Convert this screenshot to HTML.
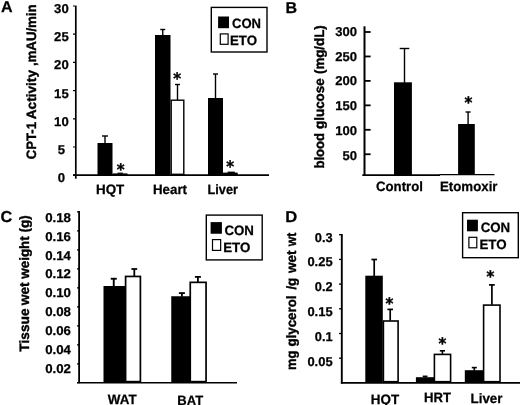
<!DOCTYPE html>
<html><head><meta charset="utf-8"><title>Figure</title>
<style>
html,body{margin:0;padding:0;background:#fff;}
body{width:520px;height:405px;overflow:hidden;}
svg{display:block;filter:blur(0.4px);}
svg text{font-family:"Liberation Sans",Arial,Helvetica,sans-serif;font-weight:bold;fill:#000;text-rendering:geometricPrecision;stroke:#000;stroke-width:0.25px;}
svg text.s{font-family:"DejaVu Sans","Liberation Sans",sans-serif;stroke-width:0.4px;}
svg text.v{stroke-width:0.38px;}
</style></head><body>
<svg width="520" height="405" viewBox="0 0 520 405">
<rect width="520" height="405" fill="#fff"/>
<text x="0.9" y="12.4" font-size="15.6" text-anchor="start" textLength="11.6" lengthAdjust="spacingAndGlyphs" >A</text>
<text class="v" transform="translate(36.2,0) rotate(-90)" font-size="13.6"><tspan x="-159.2" textLength="37.2" lengthAdjust="spacingAndGlyphs">CPT-1</tspan> <tspan x="-119.3" textLength="49.3" lengthAdjust="spacingAndGlyphs">Activity</tspan> <tspan x="-66.1" textLength="61.7" lengthAdjust="spacingAndGlyphs">,mAU/min</tspan></text>
<line x1="75.8" y1="5.6" x2="75.8" y2="178.7" stroke="#000" stroke-width="1.7"/>
<line x1="73" y1="175.2" x2="269" y2="175.2" stroke="#000" stroke-width="1.7"/>
<line x1="73" y1="6.0" x2="75" y2="6.0" stroke="#000" stroke-width="1.2"/>
<text x="61.4" y="13" font-size="12.9" text-anchor="middle" textLength="14.6" lengthAdjust="spacingAndGlyphs" >30</text>
<line x1="73" y1="34.2" x2="75" y2="34.2" stroke="#000" stroke-width="1.2"/>
<text x="61.4" y="41" font-size="12.9" text-anchor="middle" textLength="14.6" lengthAdjust="spacingAndGlyphs" >25</text>
<line x1="73" y1="62.4" x2="75" y2="62.4" stroke="#000" stroke-width="1.2"/>
<text x="61.4" y="69" font-size="12.9" text-anchor="middle" textLength="14.6" lengthAdjust="spacingAndGlyphs" >20</text>
<line x1="73" y1="90.6" x2="75" y2="90.6" stroke="#000" stroke-width="1.2"/>
<text x="61.4" y="98" font-size="12.9" text-anchor="middle" textLength="14.6" lengthAdjust="spacingAndGlyphs" >15</text>
<line x1="73" y1="118.8" x2="75" y2="118.8" stroke="#000" stroke-width="1.2"/>
<text x="61.4" y="126" font-size="12.9" text-anchor="middle" textLength="14.6" lengthAdjust="spacingAndGlyphs" >10</text>
<line x1="73" y1="147.0" x2="75" y2="147.0" stroke="#000" stroke-width="1.2"/>
<text x="61.4" y="154" font-size="12.9" text-anchor="middle" textLength="7.3" lengthAdjust="spacingAndGlyphs" >5</text>
<line x1="73" y1="175.2" x2="75" y2="175.2" stroke="#000" stroke-width="1.2"/>
<text x="61.4" y="182" font-size="12.9" text-anchor="middle" textLength="7.3" lengthAdjust="spacingAndGlyphs" >0</text>
<line x1="105.0" y1="136" x2="105.0" y2="143.5" stroke="#000" stroke-width="1.4"/>
<line x1="102.0" y1="136" x2="108.0" y2="136" stroke="#000" stroke-width="1.4"/>
<rect x="97.5" y="143" width="15.0" height="32" fill="#000"/>
<rect x="112.5" y="173.4" width="15.0" height="1.5999999999999943" fill="#000"/>
<line x1="117.5" y1="173.2" x2="123" y2="173.2" stroke="#000" stroke-width="1.2"/>
<text class="s" transform="translate(120.7,167.2) scale(1,1.06)" x="0" y="7.5" font-size="15" text-anchor="middle">*</text>
<line x1="162.75" y1="29.5" x2="162.75" y2="35.5" stroke="#000" stroke-width="1.4"/>
<line x1="160.25" y1="29.5" x2="165.25" y2="29.5" stroke="#000" stroke-width="1.4"/>
<rect x="155" y="35" width="15.5" height="140" fill="#000"/>
<line x1="177.5" y1="84.5" x2="177.5" y2="100.0" stroke="#000" stroke-width="1.4"/>
<line x1="175.0" y1="84.5" x2="180.0" y2="84.5" stroke="#000" stroke-width="1.4"/>
<rect x="171.2" y="100.2" width="12.6" height="74.1" fill="#fff" stroke="#000" stroke-width="1.4"/>
<text class="s" transform="translate(177.1,76.4) scale(1,1.06)" x="0" y="7.5" font-size="15" text-anchor="middle">*</text>
<line x1="215.5" y1="74" x2="215.5" y2="98.5" stroke="#000" stroke-width="1.4"/>
<line x1="213.0" y1="74" x2="218.0" y2="74" stroke="#000" stroke-width="1.4"/>
<rect x="208" y="98" width="15" height="77" fill="#000"/>
<rect x="223" y="172.6" width="14.699999999999989" height="2.4000000000000057" fill="#000"/>
<line x1="227.6" y1="172.3" x2="234.8" y2="172.3" stroke="#000" stroke-width="1.4"/>
<text class="s" transform="translate(230.2,164.2) scale(1,1.06)" x="0" y="7.5" font-size="15" text-anchor="middle">*</text>
<text x="96" y="194.2" font-size="13.6" text-anchor="start" textLength="28.3" lengthAdjust="spacingAndGlyphs" >HQT</text>
<text x="153" y="194.2" font-size="13.6" text-anchor="start" textLength="34" lengthAdjust="spacingAndGlyphs" >Heart</text>
<text x="207.5" y="194.2" font-size="13.6" text-anchor="start" textLength="30.5" lengthAdjust="spacingAndGlyphs" >Liver</text>
<rect x="211.29999999999998" y="7.4" width="55.699999999999996" height="44.6" fill="#fff" stroke="#000" stroke-width="1.4"/>
<rect x="218.1" y="16.5" width="10.900000000000006" height="11.7" fill="#000"/>
<rect x="220.29999999999998" y="33.9" width="7.8" height="10.400000000000002" fill="#fff" stroke="#000" stroke-width="1.2"/>
<text x="232" y="28" font-size="13.6" text-anchor="start" textLength="29" lengthAdjust="spacingAndGlyphs" >CON</text>
<text x="230" y="45.3" font-size="13.6" text-anchor="start" textLength="27" lengthAdjust="spacingAndGlyphs" >ETO</text>
<text x="285.6" y="12.6" font-size="15.6" text-anchor="start" textLength="11.6" lengthAdjust="spacingAndGlyphs" >B</text>
<text class="v" transform="translate(323.8,0) rotate(-90)" font-size="13.6"><tspan x="-168.6" textLength="35.7" lengthAdjust="spacingAndGlyphs">blood</tspan> <tspan x="-128.9" textLength="50.5" lengthAdjust="spacingAndGlyphs">glucose</tspan> <tspan x="-74" textLength="48.7" lengthAdjust="spacingAndGlyphs">(mg/dL)</tspan></text>
<line x1="364.5" y1="26.3" x2="364.5" y2="175.5" stroke="#000" stroke-width="2"/>
<line x1="362.3" y1="175.2" x2="440" y2="175.2" stroke="#000" stroke-width="1.7"/>
<line x1="439.5" y1="174.7" x2="494.5" y2="174.7" stroke="#000" stroke-width="1.2"/>
<line x1="364.5" y1="32.0" x2="370.6" y2="32.0" stroke="#000" stroke-width="1.8"/>
<text x="357.1" y="36" font-size="12.9" text-anchor="end" textLength="21.75" lengthAdjust="spacingAndGlyphs" >300</text>
<line x1="364.5" y1="56.45" x2="370.6" y2="56.45" stroke="#000" stroke-width="1.8"/>
<text x="357.1" y="61" font-size="12.9" text-anchor="end" textLength="21.75" lengthAdjust="spacingAndGlyphs" >250</text>
<line x1="364.5" y1="80.9" x2="370.6" y2="80.9" stroke="#000" stroke-width="1.8"/>
<text x="357.1" y="85" font-size="12.9" text-anchor="end" textLength="21.75" lengthAdjust="spacingAndGlyphs" >200</text>
<line x1="364.5" y1="105.35" x2="370.6" y2="105.35" stroke="#000" stroke-width="1.8"/>
<text x="357.1" y="110" font-size="12.9" text-anchor="end" textLength="21.75" lengthAdjust="spacingAndGlyphs" >150</text>
<line x1="364.5" y1="129.8" x2="370.6" y2="129.8" stroke="#000" stroke-width="1.8"/>
<text x="357.1" y="135" font-size="12.9" text-anchor="end" textLength="21.75" lengthAdjust="spacingAndGlyphs" >100</text>
<line x1="364.5" y1="154.25" x2="370.6" y2="154.25" stroke="#000" stroke-width="1.8"/>
<text x="357.1" y="160" font-size="12.9" text-anchor="end" textLength="14.5" lengthAdjust="spacingAndGlyphs" >50</text>
<line x1="404.5" y1="48.5" x2="404.5" y2="82.8" stroke="#000" stroke-width="1.4"/>
<line x1="399.7" y1="48.5" x2="409.3" y2="48.5" stroke="#000" stroke-width="1.4"/>
<rect x="394" y="82.3" width="17.899999999999977" height="92.7" fill="#000"/>
<line x1="468.1" y1="112" x2="468.1" y2="124.5" stroke="#000" stroke-width="1.4"/>
<line x1="465.6" y1="112" x2="470.6" y2="112" stroke="#000" stroke-width="1.4"/>
<rect x="458.1" y="124" width="16.69999999999999" height="51" fill="#000"/>
<text class="s" transform="translate(468.3,99.7) scale(1,1.06)" x="0" y="7.5" font-size="15" text-anchor="middle">*</text>
<text x="376" y="191" font-size="13.6" text-anchor="start" textLength="47" lengthAdjust="spacingAndGlyphs" >Control</text>
<text x="440" y="191" font-size="13.6" text-anchor="start" textLength="57.5" lengthAdjust="spacingAndGlyphs" >Etomoxir</text>
<text x="0.6" y="222.4" font-size="15.8" text-anchor="start" textLength="11.8" lengthAdjust="spacingAndGlyphs" >C</text>
<text class="v" transform="translate(29,0) rotate(-90)" font-size="13.6"><tspan x="-351.7" textLength="43.3" lengthAdjust="spacingAndGlyphs">Tissue</tspan> <tspan x="-305.2" textLength="22.8" lengthAdjust="spacingAndGlyphs">wet</tspan> <tspan x="-278.8" textLength="63.5" lengthAdjust="spacingAndGlyphs">weight (g)</tspan></text>
<line x1="79.1" y1="211" x2="79.1" y2="383.2" stroke="#000" stroke-width="1.8"/>
<line x1="77" y1="382.7" x2="237" y2="382.7" stroke="#000" stroke-width="1.6"/>
<line x1="77" y1="211.8" x2="79" y2="211.8" stroke="#000" stroke-width="1.2"/>
<text x="45.2" y="222" font-size="12.9" text-anchor="start" textLength="25.8" lengthAdjust="spacingAndGlyphs" >0.18</text>
<line x1="77" y1="230.8" x2="79" y2="230.8" stroke="#000" stroke-width="1.2"/>
<text x="45.2" y="241" font-size="12.9" text-anchor="start" textLength="25.8" lengthAdjust="spacingAndGlyphs" >0.16</text>
<line x1="77" y1="249.8" x2="79" y2="249.8" stroke="#000" stroke-width="1.2"/>
<text x="45.2" y="260" font-size="12.9" text-anchor="start" textLength="25.8" lengthAdjust="spacingAndGlyphs" >0.14</text>
<line x1="77" y1="268.8" x2="79" y2="268.8" stroke="#000" stroke-width="1.2"/>
<text x="45.2" y="278" font-size="12.9" text-anchor="start" textLength="25.8" lengthAdjust="spacingAndGlyphs" >0.12</text>
<line x1="77" y1="287.8" x2="79" y2="287.8" stroke="#000" stroke-width="1.2"/>
<text x="45.2" y="297" font-size="12.9" text-anchor="start" textLength="25.8" lengthAdjust="spacingAndGlyphs" >0.10</text>
<line x1="77" y1="306.8" x2="79" y2="306.8" stroke="#000" stroke-width="1.2"/>
<text x="45.2" y="316" font-size="12.9" text-anchor="start" textLength="25.8" lengthAdjust="spacingAndGlyphs" >0.08</text>
<line x1="77" y1="325.8" x2="79" y2="325.8" stroke="#000" stroke-width="1.2"/>
<text x="45.2" y="335" font-size="12.9" text-anchor="start" textLength="25.8" lengthAdjust="spacingAndGlyphs" >0.06</text>
<line x1="77" y1="344.8" x2="79" y2="344.8" stroke="#000" stroke-width="1.2"/>
<text x="45.2" y="354" font-size="12.9" text-anchor="start" textLength="25.8" lengthAdjust="spacingAndGlyphs" >0.04</text>
<line x1="77" y1="363.8" x2="79" y2="363.8" stroke="#000" stroke-width="1.2"/>
<text x="45.2" y="373" font-size="12.9" text-anchor="start" textLength="25.8" lengthAdjust="spacingAndGlyphs" >0.02</text>
<line x1="113.75" y1="278.75" x2="113.75" y2="286.5" stroke="#000" stroke-width="1.9"/>
<line x1="110.75" y1="278.75" x2="116.75" y2="278.75" stroke="#000" stroke-width="1.9"/>
<rect x="103.5" y="286" width="21.5" height="96.5" fill="#000"/>
<line x1="134.3" y1="269" x2="134.3" y2="276.1" stroke="#000" stroke-width="1.8"/>
<line x1="131.4" y1="269" x2="137.20000000000002" y2="269" stroke="#000" stroke-width="1.8"/>
<rect x="125.6" y="276.45000000000005" width="14.8" height="105.19999999999997" fill="#fff" stroke="#000" stroke-width="1.7"/>
<line x1="181.9" y1="293.1" x2="181.9" y2="296.75" stroke="#000" stroke-width="1.8"/>
<line x1="178.9" y1="293.1" x2="184.9" y2="293.1" stroke="#000" stroke-width="1.8"/>
<rect x="171.25" y="296.25" width="18.75" height="86.25" fill="#000"/>
<line x1="197.9" y1="276.9" x2="197.9" y2="282.0" stroke="#000" stroke-width="1.8"/>
<line x1="194.9" y1="276.9" x2="200.9" y2="276.9" stroke="#000" stroke-width="1.8"/>
<rect x="190.25" y="282.35" width="15.8" height="99.3" fill="#fff" stroke="#000" stroke-width="1.7"/>
<text x="107.8" y="404" font-size="13.6" text-anchor="start" textLength="28.8" lengthAdjust="spacingAndGlyphs" >WAT</text>
<text x="177.3" y="405" font-size="13.6" text-anchor="start" textLength="25.8" lengthAdjust="spacingAndGlyphs" >BAT</text>
<rect x="206.29999999999998" y="215.1" width="55.899999999999984" height="44.80000000000002" fill="#fff" stroke="#000" stroke-width="1.4"/>
<rect x="210.6" y="222.1" width="11.300000000000011" height="11.650000000000006" fill="#000"/>
<rect x="212.5" y="239.6" width="8.149999999999995" height="10.8" fill="#fff" stroke="#000" stroke-width="1.2"/>
<text x="224.4" y="234.5" font-size="13.6" text-anchor="start" textLength="29.5" lengthAdjust="spacingAndGlyphs" >CON</text>
<text x="223.2" y="252" font-size="13.6" text-anchor="start" textLength="27.2" lengthAdjust="spacingAndGlyphs" >ETO</text>
<text x="285.2" y="222.4" font-size="15.8" text-anchor="start" textLength="12" lengthAdjust="spacingAndGlyphs" >D</text>
<text class="v" transform="translate(295.5,0) rotate(-90)" font-size="13.6"><tspan x="-370" textLength="19.3" lengthAdjust="spacingAndGlyphs">mg</tspan> <tspan x="-346.5" textLength="51" lengthAdjust="spacingAndGlyphs">glycerol</tspan> <tspan x="-289.6" textLength="11.8" lengthAdjust="spacingAndGlyphs">/g</tspan> <tspan x="-273" textLength="22.5" lengthAdjust="spacingAndGlyphs">wet</tspan> <tspan x="-246.3" textLength="13.6" lengthAdjust="spacingAndGlyphs">wt</tspan></text>
<line x1="341.8" y1="234" x2="341.8" y2="383.6" stroke="#000" stroke-width="1.9"/>
<line x1="340.9" y1="382.8" x2="520" y2="382.8" stroke="#000" stroke-width="1.8"/>
<line x1="339" y1="234.7" x2="341.5" y2="234.7" stroke="#000" stroke-width="1.3"/>
<text x="332.6" y="242" font-size="12.9" text-anchor="end" textLength="17.8" lengthAdjust="spacingAndGlyphs" >0.3</text>
<line x1="339" y1="259.4" x2="341.5" y2="259.4" stroke="#000" stroke-width="1.3"/>
<text x="332.6" y="266" font-size="12.9" text-anchor="end" textLength="25.2" lengthAdjust="spacingAndGlyphs" >0.25</text>
<line x1="339" y1="284.09999999999997" x2="341.5" y2="284.09999999999997" stroke="#000" stroke-width="1.3"/>
<text x="332.6" y="291" font-size="12.9" text-anchor="end" textLength="17.8" lengthAdjust="spacingAndGlyphs" >0.2</text>
<line x1="339" y1="308.79999999999995" x2="341.5" y2="308.79999999999995" stroke="#000" stroke-width="1.3"/>
<text x="332.6" y="316" font-size="12.9" text-anchor="end" textLength="25.2" lengthAdjust="spacingAndGlyphs" >0.15</text>
<line x1="339" y1="333.5" x2="341.5" y2="333.5" stroke="#000" stroke-width="1.3"/>
<text x="332.6" y="341" font-size="12.9" text-anchor="end" textLength="17.8" lengthAdjust="spacingAndGlyphs" >0.1</text>
<line x1="339" y1="358.2" x2="341.5" y2="358.2" stroke="#000" stroke-width="1.3"/>
<text x="332.6" y="366" font-size="12.9" text-anchor="end" textLength="25.2" lengthAdjust="spacingAndGlyphs" >0.05</text>
<line x1="374.2" y1="259.5" x2="374.2" y2="276.2" stroke="#000" stroke-width="1.7"/>
<line x1="371.4" y1="259.5" x2="377.0" y2="259.5" stroke="#000" stroke-width="1.7"/>
<rect x="365.3" y="275.7" width="17.5" height="106.80000000000001" fill="#000"/>
<line x1="390.2" y1="309.4" x2="390.2" y2="320.7" stroke="#000" stroke-width="1.7"/>
<line x1="387.4" y1="309.4" x2="393.0" y2="309.4" stroke="#000" stroke-width="1.7"/>
<rect x="383.40000000000003" y="321.0" width="14.699999999999955" height="60.70000000000001" fill="#fff" stroke="#000" stroke-width="1.6"/>
<text class="s" transform="translate(389.5,301.2) scale(1,1.06)" x="0" y="7.5" font-size="15" text-anchor="middle">*</text>
<line x1="425.1" y1="376.3" x2="425.1" y2="377.7" stroke="#000" stroke-width="1.5"/>
<line x1="422.70000000000005" y1="376.3" x2="427.5" y2="376.3" stroke="#000" stroke-width="1.5"/>
<rect x="415.9" y="377.2" width="18.100000000000023" height="5.300000000000011" fill="#000"/>
<line x1="442.4" y1="350.8" x2="442.4" y2="354.1" stroke="#000" stroke-width="1.6"/>
<line x1="439.79999999999995" y1="350.8" x2="445.0" y2="350.8" stroke="#000" stroke-width="1.6"/>
<rect x="434.40000000000003" y="354.40000000000003" width="16.199999999999953" height="27.299999999999976" fill="#fff" stroke="#000" stroke-width="1.6"/>
<text class="s" transform="translate(442.4,341.3) scale(1,1.06)" x="0" y="7.5" font-size="15" text-anchor="middle">*</text>
<line x1="474.3" y1="367.6" x2="474.3" y2="370.7" stroke="#000" stroke-width="1.6"/>
<line x1="471.8" y1="367.6" x2="476.8" y2="367.6" stroke="#000" stroke-width="1.6"/>
<rect x="464.8" y="370.2" width="18.19999999999999" height="12.300000000000011" fill="#000"/>
<line x1="491.9" y1="284.9" x2="491.9" y2="304.8" stroke="#000" stroke-width="1.7"/>
<line x1="489.0" y1="284.9" x2="494.79999999999995" y2="284.9" stroke="#000" stroke-width="1.7"/>
<rect x="483.6" y="305.1" width="16.4" height="76.6" fill="#fff" stroke="#000" stroke-width="1.6"/>
<text class="s" transform="translate(490.5,273.75) scale(1,1.06)" x="0" y="7.5" font-size="15" text-anchor="middle">*</text>
<text x="370.8" y="404" font-size="13.6" text-anchor="start" textLength="28.3" lengthAdjust="spacingAndGlyphs" >HQT</text>
<text x="424" y="402.4" font-size="13.6" text-anchor="start" textLength="27" lengthAdjust="spacingAndGlyphs" >HRT</text>
<text x="470.5" y="403" font-size="13.6" text-anchor="start" textLength="32" lengthAdjust="spacingAndGlyphs" >Liver</text>
<rect x="462.59999999999997" y="212.7" width="55.700000000000024" height="44.99999999999998" fill="#fff" stroke="#000" stroke-width="1.4"/>
<rect x="467" y="219.7" width="10.899999999999977" height="11.600000000000023" fill="#000"/>
<rect x="468.90000000000003" y="237.29999999999998" width="7.899999999999966" height="10.500000000000018" fill="#fff" stroke="#000" stroke-width="1.2"/>
<text x="480.7" y="232.2" font-size="13.6" text-anchor="start" textLength="29.5" lengthAdjust="spacingAndGlyphs" >CON</text>
<text x="479.4" y="249.3" font-size="13.6" text-anchor="start" textLength="27.2" lengthAdjust="spacingAndGlyphs" >ETO</text>
</svg>
</body></html>
